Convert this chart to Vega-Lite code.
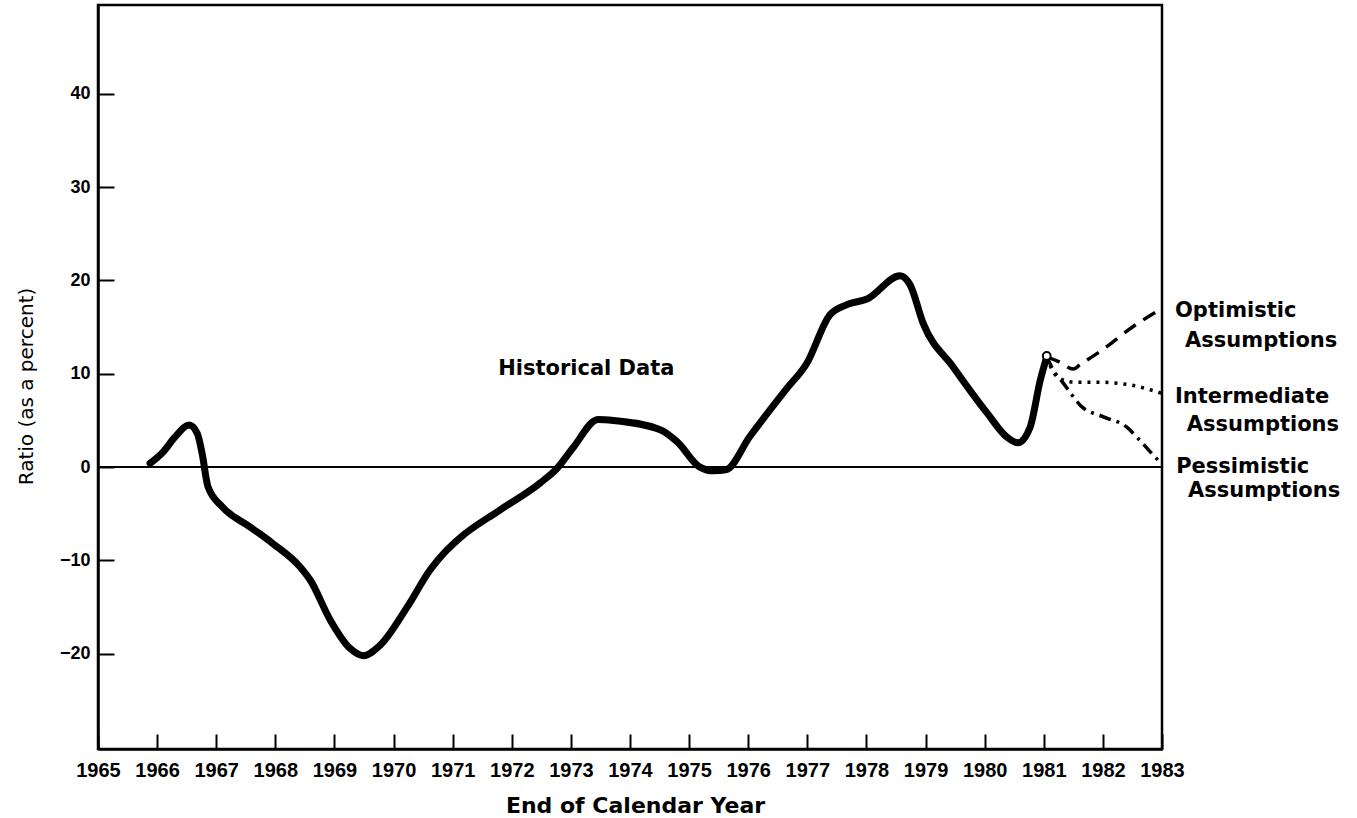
{
  "$schema": "https://vega.github.io/schema/vega-lite/v6.json",
  "width": 1064,
  "height": 744,
  "autosize": {"type": "none"},
  "padding": {"left": 98, "top": 5, "right": 195, "bottom": 69},
  "background": "white",
  "config": {
    "view": {"stroke": "black", "strokeWidth": 2.5},
    "axis": {"grid": false, "domainColor": "black", "domainWidth": 2.5, "tickColor": "black", "tickWidth": 2, "labelColor": "black", "titleColor": "black", "labelOverlap": false, "labelFlush": false}
  },
  "datasets": {
    "zero": [
      {"year": 1965, "value": 0},
      {"year": 1983, "value": 0}
    ],
    "historical": [
      {"year": 1965.88, "value": 0.4},
      {"year": 1966.1, "value": 1.6},
      {"year": 1966.3, "value": 3.2},
      {"year": 1966.54, "value": 4.5},
      {"year": 1966.68, "value": 3.6},
      {"year": 1966.76, "value": 1.5},
      {"year": 1966.86, "value": -2.1},
      {"year": 1967.11, "value": -4.3},
      {"year": 1967.57, "value": -6.4},
      {"year": 1967.96, "value": -8.2},
      {"year": 1968.42, "value": -10.7},
      {"year": 1968.59, "value": -12.1},
      {"year": 1968.93, "value": -16.4},
      {"year": 1969.26, "value": -19.4},
      {"year": 1969.49, "value": -20.2},
      {"year": 1969.77, "value": -19.1},
      {"year": 1970.23, "value": -15.0},
      {"year": 1970.62, "value": -11.0},
      {"year": 1970.9, "value": -8.9},
      {"year": 1971.12, "value": -7.6},
      {"year": 1971.8, "value": -4.6},
      {"year": 1972.48, "value": -1.7},
      {"year": 1972.77, "value": -0.1},
      {"year": 1973.04, "value": 2.1},
      {"year": 1973.46, "value": 5.1},
      {"year": 1973.72, "value": 5.0},
      {"year": 1974.51, "value": 4.0},
      {"year": 1974.8, "value": 2.7},
      {"year": 1975.18, "value": 0.0},
      {"year": 1975.41, "value": -0.4},
      {"year": 1975.62, "value": -0.3},
      {"year": 1976.03, "value": 3.3},
      {"year": 1976.65, "value": 8.4},
      {"year": 1976.99, "value": 11.1},
      {"year": 1977.38, "value": 16.3},
      {"year": 1977.67, "value": 17.4},
      {"year": 1978.01, "value": 18.0},
      {"year": 1978.57, "value": 20.5},
      {"year": 1978.74, "value": 19.5},
      {"year": 1978.96, "value": 15.4},
      {"year": 1979.47, "value": 10.7},
      {"year": 1980.04, "value": 5.8},
      {"year": 1980.38, "value": 3.2},
      {"year": 1980.56, "value": 2.6},
      {"year": 1980.77, "value": 4.3},
      {"year": 1980.94, "value": 9.3},
      {"year": 1981.05, "value": 11.8}
    ],
    "optimistic": [
      {"year": 1981.05, "value": 11.8},
      {"year": 1981.25, "value": 11.3},
      {"year": 1981.5, "value": 10.5},
      {"year": 1981.62, "value": 11.0},
      {"year": 1982.0, "value": 12.6},
      {"year": 1982.5, "value": 15.0},
      {"year": 1983.0, "value": 17.0}
    ],
    "intermediate": [
      {"year": 1981.05, "value": 11.8},
      {"year": 1981.15, "value": 10.3},
      {"year": 1981.3, "value": 9.4},
      {"year": 1981.5, "value": 9.1},
      {"year": 1981.9, "value": 9.1},
      {"year": 1982.46, "value": 8.8},
      {"year": 1983.0, "value": 7.9}
    ],
    "pessimistic": [
      {"year": 1981.05, "value": 11.8},
      {"year": 1981.2, "value": 10.0},
      {"year": 1981.33, "value": 9.0},
      {"year": 1981.48, "value": 7.7},
      {"year": 1981.62, "value": 6.6},
      {"year": 1982.0, "value": 5.4},
      {"year": 1982.4, "value": 4.3},
      {"year": 1982.62, "value": 2.9},
      {"year": 1982.85, "value": 1.3},
      {"year": 1983.0, "value": 0.3}
    ],
    "labels": [
      {"label": "Historical Data", "year": 1971.77, "value": 9.86},
      {"label": "Optimistic", "year": 1983.22, "value": 16.07},
      {"label": "Assumptions", "year": 1983.39, "value": 12.86},
      {"label": "Intermediate", "year": 1983.22, "value": 6.86},
      {"label": "Assumptions", "year": 1983.42, "value": 3.86},
      {"label": "Pessimistic", "year": 1983.24, "value": -0.64},
      {"label": "Assumptions", "year": 1983.44, "value": -3.21}
    ],
    "circle": [
      {"year": 1981.05, "value": 11.9}
    ]
  },
  "encoding": {
    "x": {"field": "year", "type": "quantitative", "scale": {"domain": [1965, 1983], "nice": false, "zero": false},
      "axis": {"title": "End of Calendar Year", "values": [1965,1966,1967,1968,1969,1970,1971,1972,1973,1974,1975,1976,1977,1978,1979,1980,1981,1982,1983], "format": "d", "tickSize": -15, "labelFont": "Liberation Sans", "labelFontWeight": "bold", "labelFontSize": 20, "labelPadding": 26, "titleFont": "DejaVu Sans", "titleFontWeight": "bold", "titleFontSize": 22, "titleX": 537, "titleY": 63, "titleBaseline": "alphabetic", "titleAlign": "center"}},
    "y": {"field": "value", "type": "quantitative", "scale": {"domain": [-30.2, 49.5], "nice": false, "zero": false},
      "axis": {"title": "Ratio (as a percent)", "values": [-20,-10,0,10,20,30,40], "format": "d", "tickSize": -16, "labelFont": "Liberation Sans", "labelFontWeight": "bold", "labelFontSize": 18, "labelPadding": 24, "titleFont": "DejaVu Sans", "titleFontWeight": "normal", "titleFontSize": 20, "titleX": -66, "titleY": 381, "titleBaseline": "alphabetic", "titleAlign": "center", "titleAngle": 270}}
  },
  "layer": [
    {
      "data": {"name": "zero"},
      "mark": {"type": "line", "color": "black", "strokeWidth": 2}
    },
    {
      "data": {"name": "historical"},
      "mark": {"type": "line", "color": "black", "strokeWidth": 7, "interpolate": "monotone", "strokeCap": "round", "strokeJoin": "round"}
    },
    {
      "data": {"name": "optimistic"},
      "mark": {"type": "line", "color": "black", "strokeWidth": 3.5, "interpolate": "monotone", "strokeDash": [14, 9]}
    },
    {
      "data": {"name": "intermediate"},
      "mark": {"type": "line", "color": "black", "strokeWidth": 3.5, "interpolate": "monotone", "strokeDash": [3, 6]}
    },
    {
      "data": {"name": "pessimistic"},
      "mark": {"type": "line", "color": "black", "strokeWidth": 3.5, "interpolate": "monotone", "strokeDash": [12, 6, 3, 6]}
    },
    {
      "data": {"name": "circle"},
      "mark": {"type": "point", "filled": true, "fill": "white", "stroke": "black", "strokeWidth": 2, "size": 60, "opacity": 1}
    },
    {
      "data": {"name": "labels"},
      "mark": {"type": "text", "align": "left", "baseline": "alphabetic", "font": "DejaVu Sans", "fontWeight": "bold", "fontSize": 21, "color": "black"},
      "encoding": {
        "text": {"field": "label"}
      }
    }
  ]
}
